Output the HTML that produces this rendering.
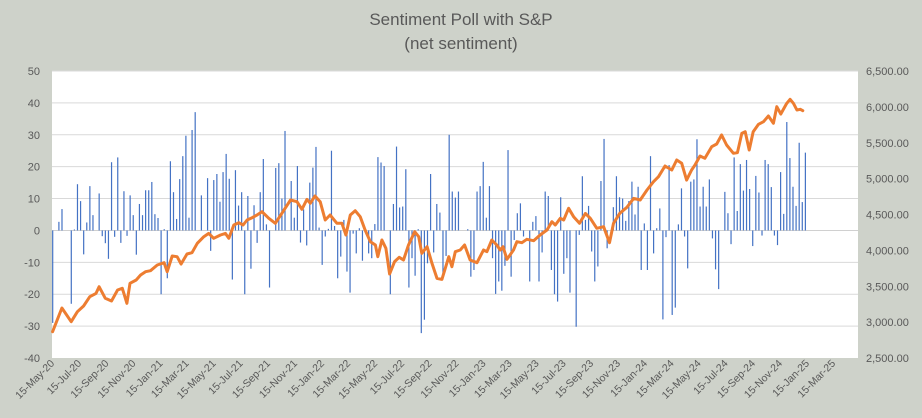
<!DOCTYPE html>
<html><head><meta charset="utf-8"><style>
html,body{margin:0;padding:0;background:#ced2ca;}
svg{display:block;font-family:"Liberation Sans",sans-serif;}
</style></head><body>
<svg id="chart" width="922" height="418" viewBox="0 0 922 418" xmlns="http://www.w3.org/2000/svg">
<rect x="0" y="0" width="922" height="418" fill="#ced2ca"/>
<text x="461" y="25" text-anchor="middle" font-size="17" fill="#595959">Sentiment Poll with S&amp;P</text>
<text x="461" y="49" text-anchor="middle" font-size="17" fill="#595959">(net sentiment)</text>
<rect x="52" y="71" width="806" height="287" fill="#ffffff"/>
<g id="grid"></g>
<g id="bars"></g>
<g id="line"></g>
<g id="axes"></g>
</svg>
<script>
const leftTicks = [50,40,30,20,10,0,-10,-20,-30,-40];
const rightTicks = ["6,500.00","6,000.00","5,500.00","5,000.00","4,500.00","4,000.00","3,500.00","3,000.00","2,500.00"];
const rightTickValues = [6500,6000,5500,5000,4500,4000,3500,3000,2500];
const xTickLabels = ["15-May-20","15-Jul-20","15-Sep-20","15-Nov-20","15-Jan-21","15-Mar-21","15-May-21","15-Jul-21","15-Sep-21","15-Nov-21","15-Jan-22","15-Mar-22","15-May-22","15-Jul-22","15-Sep-22","15-Nov-22","15-Jan-23","15-Mar-23","15-May-23","15-Jul-23","15-Sep-23","15-Nov-23","15-Jan-24","15-Mar-24","15-May-24","15-Jul-24","15-Sep-24","15-Nov-24","15-Jan-25","15-Mar-25"];
const sentiment = [
-29,0,2.7,6.7,0,0,-23,0.3,14.5,9.2,-7.5,2.5,13.9,4.8,0,11.6,-1.8,-4,-8.9,21.4,-2,22.9,-3.9,12.3,-1.7,11,4.8,-7.6,8.3,4.8,12.6,12.6,15.2,5.1,3.9,-20,0.4,-15,21.7,12,3.6,16.1,23.3,29.7,4,31.5,37.1,0,11,0,16.4,-6.4,15.8,17.7,9,18.3,24,16.2,-15.4,18.9,7.8,12,-20,10.8,-12,7.9,-3.9,12,
22.4,1.9,-17.9,0,19.6,21.1,10,31.2,0,15.5,4,20.2,-3.8,6.6,-4.7,15,19.7,26.2,0.9,-10.8,-1.9,0.5,25,1.4,-15,-8.2,3.3,-12.9,-19.5,-1,-7.2,0.7,-9.5,0,-7.2,-8.7,2,23,21.3,20.2,0,-20,8.3,26.3,7.2,7.5,19.2,-17.9,-8.7,-14.2,0.4,-32.2,-28,-10.3,17.7,-6.9,8.3,5.6,-13.6,-8,30,12.2,10.3,12.2,0,0,0.4,
-14.5,-12.4,12.2,13.9,21.5,4,13.9,-8.7,-19.9,-16,-18.9,-11.1,25.2,-14.5,-3,5.4,8.5,-1.9,0,-16,2.7,4.5,-16,-6.9,12.2,10.8,-12.4,-20,-22.3,10.4,-13.6,-8.7,-19.5,0,-30.2,-1.4,17,3.3,7.7,-6.6,-16,-11.3,15.5,28.7,-5.6,0,7.3,17,10.4,10,3,9.2,15.3,5,13.7,-12.4,2.2,-12.4,23.3,-7.2,0.7,6.9,-27.9,-2.1,20.5,-26.5,
-24.2,1.9,13.2,-1.9,-11.9,15.3,16,28.6,7.5,13.7,7.5,16,-2.5,-12.2,-18.4,0,12.1,5.4,-4.3,22.9,6.1,20.8,12.5,22.1,13,-4.9,17.1,11.9,-1.6,22.1,20.8,13.6,-1.6,-4.6,18.3,5.2,34,22.7,13.7,7.7,27.5,8.9,24.4
];
const spWeeks = [0,3,6,8,10,12,14,15,17,19,21,22.5,24,25,27,28.4,30,31.6,33.8,36,37,38.6,40.2,41.5,43.4,45,46.7,48.8,50.4,52,54.2,55.8,56.9,58.5,60.1,61.5,62.8,64.4,66,67.6,69.8,71.9,74,76.8,78.9,80.5,82.1,83.2,84.7,86.4,88,89.6,91.8,93.4,94.7,96.1,97.7,99.3,100.9,102.6,104.2,105,106.3,107.6,108.8,110.4,111.9,113.3,114.9,116.9,118.2,119.2,120.9,122.5,124.1,125.7,127.9,128.9,130,131.6,133,134.8,137,139.1,140.2,141.8,143.4,144.5,145.4,146.7,148.8,149.9,151.5,153.1,155.3,157.4,159.6,161.2,162.3,163.9,165,166.6,168.2,170.1,172,173.6,175.7,177.9,179.8,181.1,183.1,185.4,187.6,189.7,191.9,194,195.6,197.7,199.9,201.5,203.1,204.7,206.3,207.4,209,210.6,212.8,214.4,216,217.6,219.8,221.1,222.5,223.6,224.9,226.2,227.9,229.5,231.1,232.7,233.8,235.1,237,238.1,239.2,240.3,241.4,242.2];
const spValues = [2867,3197,3006,3145,3225,3354,3401,3494,3332,3294,3448,3471,3262,3541,3587,3657,3703,3717,3796,3828,3703,3922,3912,3810,3949,3967,4098,4191,4237,4168,4214,4237,4168,4354,4386,4354,4424,4456,4493,4539,4447,4377,4516,4702,4678,4572,4711,4656,4758,4678,4423,4493,4377,4377,4214,4493,4553,4470,4284,4121,4075,3912,4145,4029,3671,3843,3903,3866,4075,4260,4191,3959,4051,3819,3610,3596,3912,3773,3982,4005,4075,3866,3828,4005,3982,4145,4075,4005,4051,3875,4005,4121,4107,4154,4135,4214,4284,4400,4354,4447,4423,4586,4470,4377,4516,4447,4307,4330,4107,4377,4516,4600,4725,4702,4841,4957,5027,5176,5120,5259,5213,4980,5120,5190,5315,5283,5445,5483,5608,5469,5353,5362,5631,5654,5399,5654,5757,5794,5873,5771,6002,5901,6049,6105,6049,5956,5966,5947];

const NS = "http://www.w3.org/2000/svg";
const plotL = 52, plotR = 858, plotT = 71, plotB = 358;
const startDay = Date.UTC(2020,4,15);
const pxPerDay = 781/1765;
function xDay(ms){ return plotL + (ms - startDay)/86400000*pxPerDay; }
function xWeek(i){ return plotL + 0.6 + i*7*pxPerDay; }
function yL(v){ return plotB - (v + 40)/90*(plotB-plotT); }
function yR(v){ return plotB - (v - 2500)/4000*(plotB-plotT); }
function mk(tag, attrs, parent){ const e=document.createElementNS(NS,tag); for(const k in attrs) e.setAttribute(k,attrs[k]); parent.appendChild(e); return e; }

const grid = document.getElementById('grid');
const axes = document.getElementById('axes');
leftTicks.forEach(v=>{
  if(v!==0 && v!==-40){
    const g = mk('line',{x1:plotL,x2:plotR,y1:yL(v),y2:yL(v),stroke:'#d9d9d9','stroke-width':1},grid);
    
    
  }
  const t = mk('text',{x:40,y:yL(v)+4,'text-anchor':'end','font-size':11,fill:'#595959'},axes);
  t.textContent = v;
  
  
});
rightTicks.forEach((s,k)=>{
  const t = mk('text',{x:866,y:yR(rightTickValues[k])+4,'text-anchor':'start','font-size':11,fill:'#595959'},axes);
  t.textContent = s;
  
  
});
const za = mk('line',{x1:plotL,x2:plotR,y1:yL(0),y2:yL(0),stroke:'#d0d0d0','stroke-width':1},grid);



xTickLabels.forEach((s,k)=>{
  const yr = 2020 + Math.floor((4+2*k)/12), mo = (4+2*k)%12;
  const x = xDay(Date.UTC(yr,mo,15));
  const t = mk('text',{x:x+3,y:364,'text-anchor':'end','font-size':10.5,fill:'#595959',transform:`rotate(-45 ${x+3} 364)`},axes);
  t.textContent = s;
  
  
});

const bars = document.getElementById('bars');
sentiment.forEach((v,i)=>{
  if(v===0) return;
  const x = xWeek(i);
  const y0 = yL(0), y1 = yL(v);
  const r = mk('rect',{x:x-0.5,y:Math.min(y0,y1),width:1.2,height:Math.abs(y1-y0),fill:'#4472c4'},bars);
  
  
});

const lg = document.getElementById('line');
const d = spWeeks.map((w,k)=>(k?'L':'M')+xWeek(w).toFixed(1)+' '+yR(spValues[k]).toFixed(1)).join(' ');
const p = mk('path',{d:d,fill:'none',stroke:'#ed7d31','stroke-width':3,'stroke-linejoin':'round','stroke-linecap':'round'},lg);


</script>
</body></html>
